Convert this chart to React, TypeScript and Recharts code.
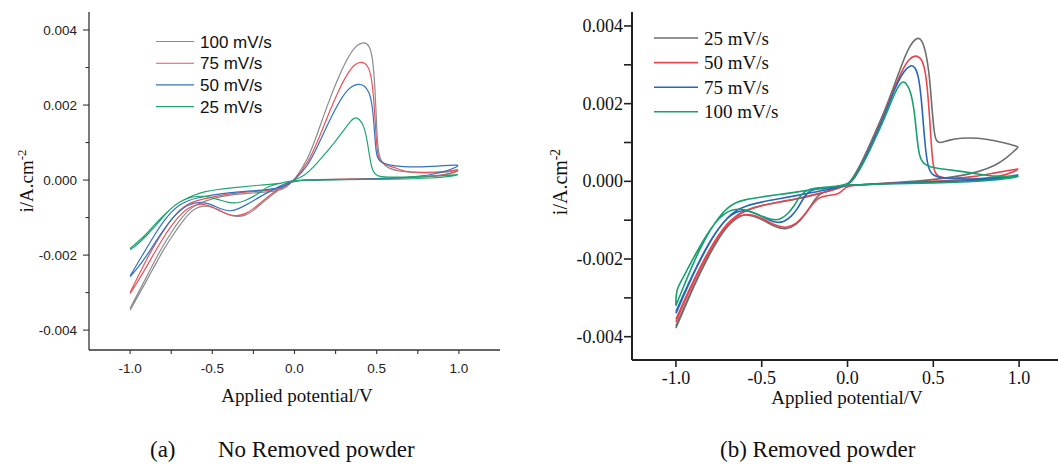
import React from "react";
import { Line, LineChart, XAxis, YAxis } from "recharts";

type Pair = [number, number];

// ---------- (a) No Removed powder : each loop = forward negative, anodic peak, return baseline, cathodic dip ----------
const A100_UP: Pair[] = [[-1.0, -0.00342], [-0.95, -0.003], [-0.9, -0.00258], [-0.85, -0.00215], [-0.8, -0.00175], [-0.75, -0.0014], [-0.7, -0.00108], [-0.65, -0.00082], [-0.6, -0.00065], [-0.5, -0.00049], [-0.4, -0.0004], [-0.3, -0.00036], [-0.2, -0.00033], [-0.1, -0.00029], [-0.05, -0.0002], [0, 0]];
const A100_OX: Pair[] = [[0.08, 0.00053], [0.14, 0.00124], [0.2, 0.002], [0.26, 0.00267], [0.32, 0.00324], [0.37, 0.00357], [0.42, 0.00369], [0.455, 0.0036], [0.475, 0.00329], [0.49, 0.00249], [0.5, 0.00133], [0.51, 0.00071], [0.527, 0.00049], [0.567, 0.00031], [0.65, 0.00022], [0.79, 0.00018], [0.91, 0.0002], [0.98, 0.00025], [1.0, 0.00027]];
const A100_BACK: Pair[] = [[0.98, 0.0002], [0.9, 0.00012], [0.8, 0.00008], [0.6, 0.00005], [0.4, 0.00003], [0.2, 0.00002], [0, 0]];
const A100_DIP: Pair[] = [[-0.05, -0.00012], [-0.1, -0.00028], [-0.15, -0.00044], [-0.2, -0.00062], [-0.25, -0.00082], [-0.3, -0.00095], [-0.35, -0.00098], [-0.4, -0.00093], [-0.45, -0.00082], [-0.5, -0.00072], [-0.55, -0.00068], [-0.6, -0.00074], [-0.65, -0.00092], [-0.7, -0.00122], [-0.75, -0.00153], [-0.8, -0.00188], [-0.85, -0.00228], [-0.9, -0.00268], [-0.95, -0.00308], [-1.0, -0.00347]];

const A75_UP: Pair[] = [[-1.0, -0.003], [-0.95, -0.00255], [-0.9, -0.00212], [-0.85, -0.00172], [-0.8, -0.00137], [-0.75, -0.00105], [-0.7, -0.0008], [-0.65, -0.00064], [-0.6, -0.00055], [-0.5, -0.00045], [-0.4, -0.00037], [-0.3, -0.00032], [-0.2, -0.00029], [-0.1, -0.00025], [-0.05, -0.00016], [0, 0]];
const A75_OX: Pair[] = [[0.08, 0.00044], [0.14, 0.00102], [0.2, 0.00169], [0.26, 0.00231], [0.32, 0.00284], [0.37, 0.00311], [0.41, 0.00316], [0.445, 0.00307], [0.47, 0.00276], [0.486, 0.00196], [0.498, 0.00098], [0.51, 0.00053], [0.547, 0.00041], [0.6, 0.00035], [0.65, 0.00026], [0.7, 0.00021], [0.79, 0.0002], [0.91, 0.00022], [0.98, 0.00027], [1.0, 0.00028]];
const A75_BACK: Pair[] = [[0.98, 0.00022], [0.9, 0.00012], [0.7, 0.00006], [0.4, 0.00003], [0.2, 0.00001], [0, 0]];
const A75_DIP: Pair[] = [[-0.05, -0.0001], [-0.1, -0.00024], [-0.15, -0.0004], [-0.2, -0.00058], [-0.25, -0.00077], [-0.3, -0.00091], [-0.35, -0.00096], [-0.4, -0.00093], [-0.45, -0.00083], [-0.5, -0.00071], [-0.55, -0.00064], [-0.6, -0.00065], [-0.65, -0.00075], [-0.7, -0.00095], [-0.75, -0.00122], [-0.8, -0.00155], [-0.85, -0.00192], [-0.9, -0.00231], [-0.95, -0.00268], [-1.0, -0.00303]];

const A50_UP: Pair[] = [[-1.0, -0.00256], [-0.95, -0.00218], [-0.9, -0.00182], [-0.85, -0.00145], [-0.8, -0.00112], [-0.75, -0.00085], [-0.7, -0.00066], [-0.65, -0.00055], [-0.6, -0.00048], [-0.5, -0.0004], [-0.4, -0.00034], [-0.3, -0.0003], [-0.2, -0.00027], [-0.1, -0.00022], [-0.05, -0.00014], [0, 0]];
const A50_OX: Pair[] = [[0.08, 0.00036], [0.14, 0.00089], [0.2, 0.00147], [0.26, 0.002], [0.32, 0.00242], [0.38, 0.00258], [0.425, 0.00253], [0.455, 0.00236], [0.475, 0.00196], [0.486, 0.00133], [0.496, 0.00071], [0.51, 0.00049], [0.59, 0.00037], [0.75, 0.00034], [0.89, 0.00038], [0.98, 0.0004], [1.0, 0.0004]];
const A50_BACK: Pair[] = [[0.98, 0.00033], [0.9, 0.0002], [0.75, 0.00008], [0.5, 0.00003], [0.25, 0.00001], [0, 0]];
const A50_DIP: Pair[] = [[-0.05, -0.00008], [-0.1, -0.00018], [-0.15, -0.0003], [-0.2, -0.00042], [-0.25, -0.00055], [-0.3, -0.00068], [-0.35, -0.00078], [-0.39, -0.00084], [-0.45, -0.00077], [-0.5, -0.00066], [-0.55, -0.0006], [-0.6, -0.0006], [-0.65, -0.00066], [-0.7, -0.00082], [-0.75, -0.00105], [-0.8, -0.00135], [-0.85, -0.00168], [-0.9, -0.00202], [-0.95, -0.00232], [-1.0, -0.00258]];

const A25_UP: Pair[] = [[-1.0, -0.00182], [-0.915, -0.00151], [-0.855, -0.0012], [-0.794, -0.00093], [-0.733, -0.00068], [-0.672, -0.00052], [-0.612, -0.0004], [-0.551, -0.00031], [-0.47, -0.00025], [-0.37, -0.0002], [-0.25, -0.00015], [-0.13, -0.00011], [-0.05, -0.00006], [0, 0]];
const A25_OX: Pair[] = [[0.06, 0.00011], [0.12, 0.00036], [0.18, 0.00067], [0.24, 0.00098], [0.3, 0.00133], [0.345, 0.0016], [0.365, 0.00167], [0.395, 0.00164], [0.425, 0.00142], [0.445, 0.00098], [0.46, 0.00053], [0.476, 0.00022], [0.5, 0.00011], [0.55, 0.00007], [0.75, 0.00009], [0.98, 0.00014], [1.0, 0.00015]];
const A25_BACK: Pair[] = [[0.97, 0.00011], [0.85, 0.00005], [0.6, 0.00002], [0.3, 0.00001], [0, 0]];
const A25_DIP: Pair[] = [[-0.05, -0.00005], [-0.1, -0.0001], [-0.166, -0.00018], [-0.2, -0.0003], [-0.25, -0.00044], [-0.3, -0.00055], [-0.35, -0.00062], [-0.4, -0.0006], [-0.45, -0.00054], [-0.5, -0.00047], [-0.55, -0.00043], [-0.6, -0.00043], [-0.65, -0.00048], [-0.7, -0.00058], [-0.75, -0.00075], [-0.8, -0.00098], [-0.85, -0.00125], [-0.9, -0.00148], [-0.95, -0.0017], [-1.0, -0.00186]];

// ---------- (b) Removed powder ----------
const B25_UP: Pair[] = [[-1.0, -0.00372], [-0.95, -0.00322], [-0.9, -0.00272], [-0.85, -0.00225], [-0.8, -0.00182], [-0.75, -0.00145], [-0.7, -0.00113], [-0.65, -0.0009], [-0.6, -0.00076], [-0.55, -0.00068], [-0.5, -0.00062], [-0.4, -0.00054], [-0.3, -0.00046], [-0.2, -0.00036], [-0.1, -0.00024], [-0.05, -0.00016], [0, -0.0001]];
const B25_OX: Pair[] = [[0.04, 0.00014], [0.1, 0.00065], [0.16, 0.00125], [0.22, 0.00185], [0.27, 0.00245], [0.32, 0.00305], [0.36, 0.00348], [0.405, 0.00372], [0.433, 0.00366], [0.458, 0.00331], [0.478, 0.00271], [0.491, 0.00194], [0.503, 0.00134], [0.513, 0.00106], [0.535, 0.00097], [0.585, 0.00106], [0.66, 0.00112], [0.76, 0.00112], [0.86, 0.00105], [0.95, 0.00095], [0.98, 0.00091], [1.0, 0.00089]];
const B25_BACK: Pair[] = [[0.98, 0.00082], [0.93, 0.00061], [0.86, 0.0004], [0.76, 0.00024], [0.66, 0.00014], [0.5, 0.00004], [0.3, -0.00003], [0.1, -0.00008], [0, -0.0001]];
const B25_DIP: Pair[] = [[-0.05, -0.00015], [-0.1, -0.00022], [-0.15, -0.0003], [-0.18, -0.0004], [-0.21, -0.0006], [-0.25, -0.00088], [-0.3, -0.00113], [-0.36, -0.00125], [-0.42, -0.00118], [-0.48, -0.00102], [-0.54, -0.0009], [-0.6, -0.00084], [-0.65, -0.00095], [-0.7, -0.00115], [-0.75, -0.00146], [-0.8, -0.00185], [-0.85, -0.00228], [-0.9, -0.00275], [-0.95, -0.00326], [-1.0, -0.00378]];

const B50_UP: Pair[] = [[-1.0, -0.00355], [-0.95, -0.00305], [-0.9, -0.00258], [-0.85, -0.00213], [-0.8, -0.00172], [-0.75, -0.00137], [-0.7, -0.00108], [-0.65, -0.00088], [-0.6, -0.00076], [-0.5, -0.00062], [-0.4, -0.00053], [-0.3, -0.00045], [-0.2, -0.00035], [-0.1, -0.00024], [-0.05, -0.00017], [0, -0.0001]];
const B50_OX: Pair[] = [[0.04, 0.00005], [0.1, 0.00057], [0.16, 0.00117], [0.22, 0.00177], [0.27, 0.00237], [0.32, 0.00288], [0.36, 0.00316], [0.395, 0.00325], [0.43, 0.00318], [0.453, 0.00288], [0.468, 0.00228], [0.482, 0.00142], [0.491, 0.00074], [0.503, 0.00027], [0.526, 0.00009], [0.62, 0.00007], [0.74, 0.00012], [0.86, 0.00022], [0.98, 0.00031], [1.0, 0.00033]];
const B50_BACK: Pair[] = [[0.98, 0.00027], [0.9, 0.00012], [0.7, 0.00004], [0.5, 0.0], [0.25, -0.00005], [0, -0.0001]];
const B50_DIP: Pair[] = [[-0.02, -0.0002], [-0.05, -0.00033], [-0.1, -0.00036], [-0.15, -0.00039], [-0.18, -0.00046], [-0.21, -0.00062], [-0.25, -0.00086], [-0.3, -0.00111], [-0.36, -0.00121], [-0.42, -0.00114], [-0.48, -0.00099], [-0.54, -0.00087], [-0.6, -0.00084], [-0.65, -0.00092], [-0.7, -0.0011], [-0.75, -0.0014], [-0.8, -0.00176], [-0.85, -0.00217], [-0.9, -0.00262], [-0.95, -0.0031], [-1.0, -0.00362]];

const B75_UP: Pair[] = [[-1.0, -0.00335], [-0.95, -0.00285], [-0.9, -0.00238], [-0.85, -0.00193], [-0.8, -0.00153], [-0.75, -0.0012], [-0.7, -0.00093], [-0.65, -0.00075], [-0.6, -0.00064], [-0.5, -0.00053], [-0.4, -0.00045], [-0.3, -0.00037], [-0.2, -0.00028], [-0.1, -0.0002], [0, -0.0001]];
const B75_OX: Pair[] = [[0.04, 0.00007], [0.1, 0.00057], [0.16, 0.00115], [0.22, 0.00175], [0.27, 0.00233], [0.32, 0.0028], [0.367, 0.00301], [0.394, 0.00295], [0.414, 0.00271], [0.429, 0.0022], [0.443, 0.00142], [0.456, 0.00074], [0.472, 0.00031], [0.497, 0.00014], [0.565, 0.00007], [0.74, 0.00005], [0.9, 0.00009], [0.98, 0.00016], [1.0, 0.00017]];
const B75_BACK: Pair[] = [[0.98, 0.00013], [0.85, 0.00004], [0.6, 0.0], [0.3, -0.00004], [0, -0.0001]];
const B75_DIP: Pair[] = [[-0.05, -0.00013], [-0.1, -0.00016], [-0.15, -0.00019], [-0.2, -0.00021], [-0.23, -0.00027], [-0.26, -0.00045], [-0.29, -0.0007], [-0.33, -0.00092], [-0.37, -0.00104], [-0.41, -0.00107], [-0.45, -0.00101], [-0.5, -0.0009], [-0.55, -0.0008], [-0.6, -0.00074], [-0.65, -0.00078], [-0.7, -0.00094], [-0.75, -0.0012], [-0.8, -0.00155], [-0.85, -0.00196], [-0.9, -0.0024], [-0.95, -0.0029], [-1.0, -0.0034]];

const B100_UP: Pair[] = [[-1.0, -0.0032], [-0.95, -0.00265], [-0.9, -0.00212], [-0.85, -0.00165], [-0.8, -0.00125], [-0.75, -0.00092], [-0.7, -0.00068], [-0.65, -0.00054], [-0.6, -0.00047], [-0.5, -0.0004], [-0.4, -0.00034], [-0.3, -0.00028], [-0.2, -0.0002], [-0.1, -0.00014], [0, -0.0001]];
const B100_OX: Pair[] = [[0.04, 0.00007], [0.1, 0.00052], [0.16, 0.00108], [0.22, 0.00166], [0.265, 0.00218], [0.313, 0.0026], [0.342, 0.00254], [0.367, 0.00233], [0.387, 0.0019], [0.4, 0.00134], [0.414, 0.00074], [0.433, 0.00048], [0.478, 0.00037], [0.565, 0.00031], [0.66, 0.00026], [0.76, 0.00019], [0.86, 0.00012], [0.98, 0.00013], [1.0, 0.00013]];
const B100_BACK: Pair[] = [[0.98, 0.0001], [0.8, 0.0], [0.5, -0.00004], [0.2, -0.00007], [0, -0.0001]];
const B100_DIP: Pair[] = [[-0.05, -0.00012], [-0.1, -0.00014], [-0.15, -0.00016], [-0.2, -0.00018], [-0.25, -0.00025], [-0.28, -0.0004], [-0.31, -0.00063], [-0.35, -0.00085], [-0.39, -0.00097], [-0.42, -0.001], [-0.47, -0.00095], [-0.52, -0.00086], [-0.57, -0.00076], [-0.62, -0.00071], [-0.67, -0.00072], [-0.72, -0.00083], [-0.77, -0.00105], [-0.82, -0.00137], [-0.87, -0.00175], [-0.92, -0.00215], [-0.96, -0.0025], [-1.0, -0.0028], [-1.0, -0.0032]];

const A_NAMES = ["100 mV/s", "75 mV/s", "50 mV/s", "25 mV/s"];
const A_COLORS = ["#8c8c8c", "#e8535b", "#2f74c0", "#20a472"];
const B_NAMES = ["25 mV/s", "50 mV/s", "75 mV/s", "100 mV/s"];
const B_COLORS = ["#6e6e6e", "#e8464f", "#2767b8", "#17a070"];

const Y_TICKS = [-0.004, -0.003, -0.002, -0.001, 0, 0.001, 0.002, 0.003, 0.004];
const A_X_TICKS = [-1, -0.75, -0.5, -0.25, 0, 0.25, 0.5, 0.75, 1];
const B_X_TICKS = [-1, -0.5, 0, 0.5, 1];

const toPts = (parts: Pair[][]) => parts.flat().map(([x, y]) => ({ x, y }));

const A_LOOPS = [
  toPts([A100_UP, A100_OX, A100_BACK, A100_DIP]),
  toPts([A75_UP, A75_OX, A75_BACK, A75_DIP]),
  toPts([A50_UP, A50_OX, A50_BACK, A50_DIP]),
  toPts([A25_UP, A25_OX, A25_BACK, A25_DIP]),
];
const B_LOOPS = [
  toPts([B25_UP, B25_OX, B25_BACK, B25_DIP]),
  toPts([B50_UP, B50_OX, B50_BACK, B50_DIP]),
  toPts([B75_UP, B75_OX, B75_BACK, B75_DIP]),
  toPts([B100_UP, B100_OX, B100_BACK, B100_DIP]),
];

const SANS = '"Liberation Sans", Arial, sans-serif';
const SERIF = '"Liberation Serif", "Times New Roman", serif';

const isMajorY = (v: number) => Math.round(v * 1000) % 2 === 0;

const AYTick = (p: any) => {
  const { x, y, payload } = p;
  const major = isMajorY(payload.value);
  return (
    <g>
      <line x1={x - (major ? 6 : 3.5)} x2={x} y1={y} y2={y} stroke="#333" strokeWidth={1.1} />
      {major && (
        <text x={x - 12} y={y + 5} textAnchor="end" fontFamily={SANS} fontSize={13.5} fill="#222">
          {payload.value.toFixed(3)}
        </text>
      )}
    </g>
  );
};

const AXTick = (p: any) => {
  const { x, y, payload } = p;
  const major = Math.round(payload.value * 4) % 2 === 0;
  return (
    <g>
      <line x1={x} x2={x} y1={y} y2={y + 4} stroke="#333" strokeWidth={1.1} />
      {major && (
        <text x={x} y={y + 23} textAnchor="middle" fontFamily={SANS} fontSize={13.5} fill="#222">
          {payload.value.toFixed(1)}
        </text>
      )}
    </g>
  );
};

const BYTick = (p: any) => {
  const { x, y, payload } = p;
  const major = isMajorY(payload.value);
  return (
    <g>
      <line x1={x - 8} x2={x} y1={y} y2={y} stroke="#222" strokeWidth={1.6} />
      {major && (
        <text x={x - 9} y={y + 6} textAnchor="end" fontFamily={SERIF} fontSize={18} fill="#111">
          {payload.value.toFixed(3)}
        </text>
      )}
    </g>
  );
};

const BXTick = (p: any) => {
  const { x, y, payload } = p;
  return (
    <g>
      <line x1={x} x2={x} y1={y} y2={y + 7} stroke="#222" strokeWidth={1.6} />
      <text x={x} y={y + 24} textAnchor="middle" fontFamily={SERIF} fontSize={18} fill="#111">
        {payload.value.toFixed(1)}
      </text>
    </g>
  );
};

const XTitle = ({ cx, baseline }: { cx: number; baseline: number }) => (
  <text x={cx} y={baseline} textAnchor="middle" fontFamily={SERIF} fontSize={19} fill="#111">
    Applied potential/V
  </text>
);

const YTitle = ({ bx, cy, size }: { bx: number; cy: number; size: number }) => (
  <text
    x={bx}
    y={cy}
    transform={`rotate(-90 ${bx} ${cy})`}
    textAnchor="middle"
    fontFamily={SERIF}
    fontSize={size}
    fill="#111"
  >
    i/A.cm<tspan dy={-7} fontSize={size * 0.68}>-2</tspan>
  </text>
);

// legend drawn as svg rows: line sample then label
const LegendRows = ({
  names,
  colors,
  x,
  y0,
  step,
  lineW,
  stroke,
  font,
  size,
  lift,
}: {
  names: string[];
  colors: string[];
  x: number;
  y0: number;
  step: number;
  lineW: number;
  stroke: number;
  font: string;
  size: number;
  lift: number;
}) => (
  <g>
    {names.map((n, i) => {
      const cy = y0 + i * step;
      return (
        <g key={n}>
          <line x1={x} x2={x + lineW} y1={cy} y2={cy} stroke={colors[i]} strokeWidth={stroke} />
          <text x={x + lineW + 6} y={cy + lift} fontFamily={font} fontSize={size} fill="#111">
            {n}
          </text>
        </g>
      );
    })}
  </g>
);

function ChartA() {
  return (
    <div style={{ position: "absolute", left: 0, top: 0 }}>
      <LineChart width={520} height={420} margin={{ top: 12, right: 20, left: 0, bottom: 0 }}>
        <XAxis
          type="number"
          dataKey="x"
          domain={[-1.25, 1.25]}
          ticks={A_X_TICKS}
          interval={0}
          allowDataOverflow
          height={70}
          tickSize={0}
          tickMargin={0}
          tickLine={false}
          tick={AXTick}
          axisLine={{ stroke: "#333", strokeWidth: 1.3 }}
          label={<XTitle cx={297} baseline={402} />}
        />
        <XAxis
          xAxisId="top"
          orientation="top"
          type="number"
          domain={[-1.25, 1.25]}
          height={0}
          tick={false}
          tickLine={false}
          axisLine={{ stroke: "#a8a8a8", strokeWidth: 1 }}
        />
        <YAxis
          type="number"
          domain={[-0.00453, 0.00448]}
          ticks={Y_TICKS}
          interval={0}
          allowDataOverflow
          width={89}
          tickSize={0}
          tickMargin={0}
          tickLine={false}
          tick={AYTick}
          axisLine={{ stroke: "#333", strokeWidth: 1.3 }}
          label={<YTitle bx={33} cy={181} size={19} />}
        />
        <YAxis
          yAxisId="right"
          orientation="right"
          type="number"
          domain={[-0.00453, 0.00448]}
          width={0}
          tick={false}
          tickLine={false}
          axisLine={{ stroke: "#a8a8a8", strokeWidth: 1 }}
        />
        {A_LOOPS.map((d, i) => (
          <Line
            key={A_NAMES[i]}
            name={A_NAMES[i]}
            data={d}
            dataKey="y"
            type="basis"
            stroke={A_COLORS[i]}
            strokeWidth={1.2}
            dot={false}
            activeDot={false}
            isAnimationActive={false}
          />
        ))}
      </LineChart>
    </div>
  );
}

function ChartB() {
  return (
    <div style={{ position: "absolute", left: 530, top: 0 }}>
      <LineChart width={540} height={420} margin={{ top: 12, right: 8, left: 0, bottom: 0 }}>
        <XAxis
          type="number"
          dataKey="x"
          domain={[-1.256, 1.25]}
          ticks={B_X_TICKS}
          interval={0}
          allowDataOverflow
          height={60}
          tickSize={0}
          tickMargin={0}
          tickLine={false}
          tick={BXTick}
          axisLine={{ stroke: "#222", strokeWidth: 2 }}
          label={<XTitle cx={317} baseline={404} />}
        />
        <XAxis
          xAxisId="top"
          orientation="top"
          type="number"
          domain={[-1.256, 1.25]}
          height={0}
          tick={false}
          tickLine={false}
          axisLine={{ stroke: "#a8a8a8", strokeWidth: 2 }}
        />
        <YAxis
          type="number"
          domain={[-0.0046, 0.00436]}
          ticks={Y_TICKS}
          interval={0}
          allowDataOverflow
          width={102}
          tickSize={0}
          tickMargin={0}
          tickLine={false}
          tick={BYTick}
          axisLine={{ stroke: "#222", strokeWidth: 2 }}
          label={<YTitle bx={37} cy={182} size={20} />}
        />
        {B_LOOPS.map((d, i) => (
          <Line
            key={B_NAMES[i]}
            name={B_NAMES[i]}
            data={d}
            dataKey="y"
            type="basis"
            stroke={B_COLORS[i]}
            strokeWidth={1.6}
            dot={false}
            activeDot={false}
            isAnimationActive={false}
          />
        ))}
      </LineChart>
    </div>
  );
}

export default function App() {
  return (
    <div
      style={{
        position: "fixed",
        left: 0,
        top: 0,
        width: 1058,
        height: 471,
        background: "#fff",
        overflow: "hidden",
      }}
    >
      <ChartA />
      <ChartB />
      <svg width={1058} height={471} style={{ position: "absolute", left: 0, top: 0, pointerEvents: "none" }}>
        <LegendRows
          names={A_NAMES}
          colors={A_COLORS}
          x={156}
          y0={41.5}
          step={21.7}
          lineW={38}
          stroke={1.1}
          font={SANS}
          size={17}
          lift={6}
        />
        <LegendRows
          names={B_NAMES}
          colors={B_COLORS}
          x={654}
          y0={38}
          step={24.6}
          lineW={44}
          stroke={1.6}
          font={SERIF}
          size={19}
          lift={6.5}
        />
        <g fontFamily={SERIF} fontSize={23} fill="#111">
          <text x={150} y={457}>(a)</text>
          <text x={218} y={457}>No Removed powder</text>
          <text x={720} y={457}>(b) Removed powder</text>
        </g>
      </svg>
    </div>
  );
}
